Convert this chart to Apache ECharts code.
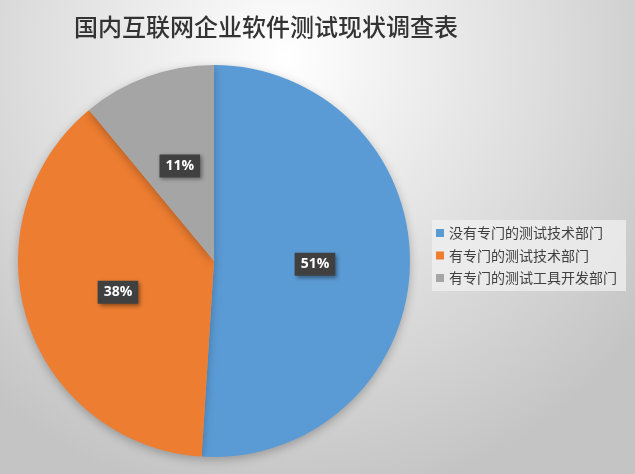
<!DOCTYPE html>
<html>
<head>
<meta charset="utf-8">
<script src="https://cdn.jsdelivr.net/npm/echarts@6/dist/echarts.min.js"></script>
<style>html,body{margin:0;padding:0;}#c{width:635px;height:474px;}</style>
</head>
<body>
<div id="c"></div>
<script>
var categories = ['没有专门的测试技术部门', '有专门的测试技术部门', '有专门的测试工具开发部门'];
var values = [51, 38, 11];
var colors = ['#5B9BD5', '#ED7D31', '#A5A5A5'];

var chart = echarts.init(document.getElementById('c'));
chart.setOption({
  backgroundColor: {
    type: 'radial', x: 0.45, y: 0.12, r: 0.95,
    colorStops: [{offset: 0, color: '#ffffff'}, {offset: 1, color: '#c4c4c4'}]
  },
  title: {
    text: '国内互联网企业软件测试现状调查表',
    left: 69, top: 10,
    textStyle: {fontFamily: 'Noto Sans CJK SC', fontSize: 24, fontWeight: 500, color: '#333333'}
  },
  legend: {
    orient: 'vertical',
    left: 432, top: 220,
    backgroundColor: 'rgba(240,240,240,0.75)',
    padding: [5, 9, 5, 4],
    icon: 'rect', itemWidth: 8, itemHeight: 8, itemGap: 6.5,
    textStyle: {fontFamily: 'Noto Sans CJK SC', fontSize: 14, color: '#404040', lineHeight: 16},
    data: categories
  },
  series: [{
    type: 'pie',
    center: [214, 261],
    radius: 196,
    startAngle: 90,
    clockwise: true,
    silent: true,
    animation: false,
    itemStyle: {shadowBlur: 10, shadowColor: 'rgba(0,0,0,0.25)', shadowOffsetY: 3},
    label: {
      position: 'inside',
      formatter: function (p) { return Math.round(p.percent) + '%'; },
      backgroundColor: '#404040',
      color: '#ffffff',
      fontFamily: 'Open Sans',
      fontWeight: 'bold',
      fontSize: 14,
      padding: [5, 6, 4, 6],
      shadowBlur: 4, shadowColor: 'rgba(0,0,0,0.4)', shadowOffsetX: 2, shadowOffsetY: 2
    },
    labelLine: {show: false},
    data: categories.map(function (n, i) { return {name: n, value: values[i], itemStyle: {color: colors[i]}}; })
  }]
});
</script>
</body>
</html>
